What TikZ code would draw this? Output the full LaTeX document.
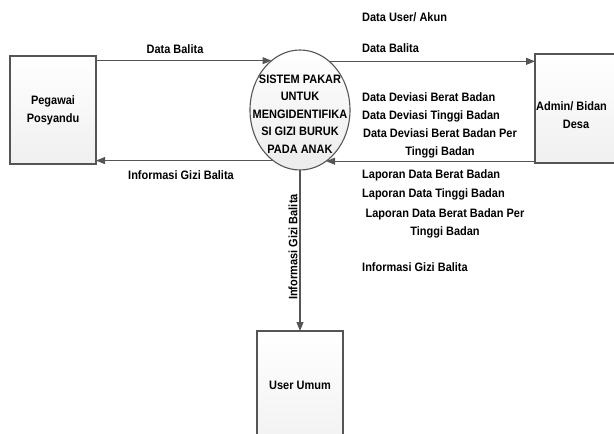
\documentclass[tikz,border=0pt]{standalone}
\usepackage{fontspec}
\setmainfont{Liberation Sans}[FakeStretch=0.9]
\usetikzlibrary{shapes.geometric,arrows.meta}
\definecolor{linec}{HTML}{555555}
\begin{document}
\begin{tikzpicture}[x=1pt,y=1pt,
  every node/.style={font=\bfseries\fontsize{12.2}{18}\selectfont, text=black},
  entity/.style={draw=linec, line width=1.1pt, top color=white, bottom color=gray!12, rectangle, inner sep=2pt, outer sep=0pt, align=center},
  proc/.style={draw=linec, line width=1.1pt, top color=white, bottom color=gray!15, ellipse, minimum width=100pt, minimum height=120pt, inner sep=0pt, outer sep=0pt},
  arr/.style={draw=linec, line width=1.1pt, -{Triangle[length=9pt,width=7pt]}},
  lbl/.style={inner sep=0pt, align=center}
]
\useasboundingbox (0,0) rectangle (614,-434);
\node[entity, minimum width=86pt, minimum height=108pt] (peg) at (53,-110) {Pegawai\\Posyandu};
\node[entity, minimum width=100pt, minimum height=109pt] (adm) at (585,-108.5) {};
\node[lbl, anchor=west] at (536,-106) {Admin/ Bidan};
\node[lbl] at (576,-124) {Desa};
\node[entity, minimum width=86pt, minimum height=130pt] (um) at (300,-396) {};
\node[lbl] at (300,-385) {User Umum};
\node[proc] (ell) at (300,-110) {};
\node[lbl, font=\bfseries\fontsize{12.2}{17.5}\selectfont] at (300,-114) {SISTEM PAKAR\\UNTUK\\MENGIDENTIFIKA\\SI GIZI BURUK\\PADA ANAK};

\draw[arr] (peg.east |- ell.120.4) -- (ell.120.4);
\draw[arr] (ell.242.7) -- (peg.east |- ell.242.7);
\draw[arr] (ell.59.6) -- (adm.west |- ell.59.6);
\draw[arr] (adm.west |- ell.297.3) -- (ell.297.3);
\draw[arr] (ell.south) -- (um.north);

\node[lbl] at (175,-49) {Data Balita};
\node[lbl] at (181,-175) {Informasi Gizi Balita};
\node[lbl, anchor=west] at (362,-17) {Data User/ Akun};
\node[lbl, anchor=west] at (362,-48) {Data Balita};
\node[lbl, anchor=west] at (362,-97) {Data Deviasi Berat Badan};
\node[lbl, anchor=west] at (362,-116) {Data Deviasi Tinggi Badan};
\node[lbl] at (440,-143) {Data Deviasi Berat Badan Per\\Tinggi Badan};
\node[lbl, anchor=west] at (362,-175) {Laporan Data Berat Badan};
\node[lbl, anchor=west] at (362,-194) {Laporan Data Tinggi Badan};
\node[lbl] at (445,-223) {Laporan Data Berat Badan Per\\Tinggi Badan};
\node[lbl, anchor=west] at (362,-267) {Informasi Gizi Balita};
\node[lbl, rotate=90] at (293,-247) {Informasi Gizi Balita};
\end{tikzpicture}
\end{document}
